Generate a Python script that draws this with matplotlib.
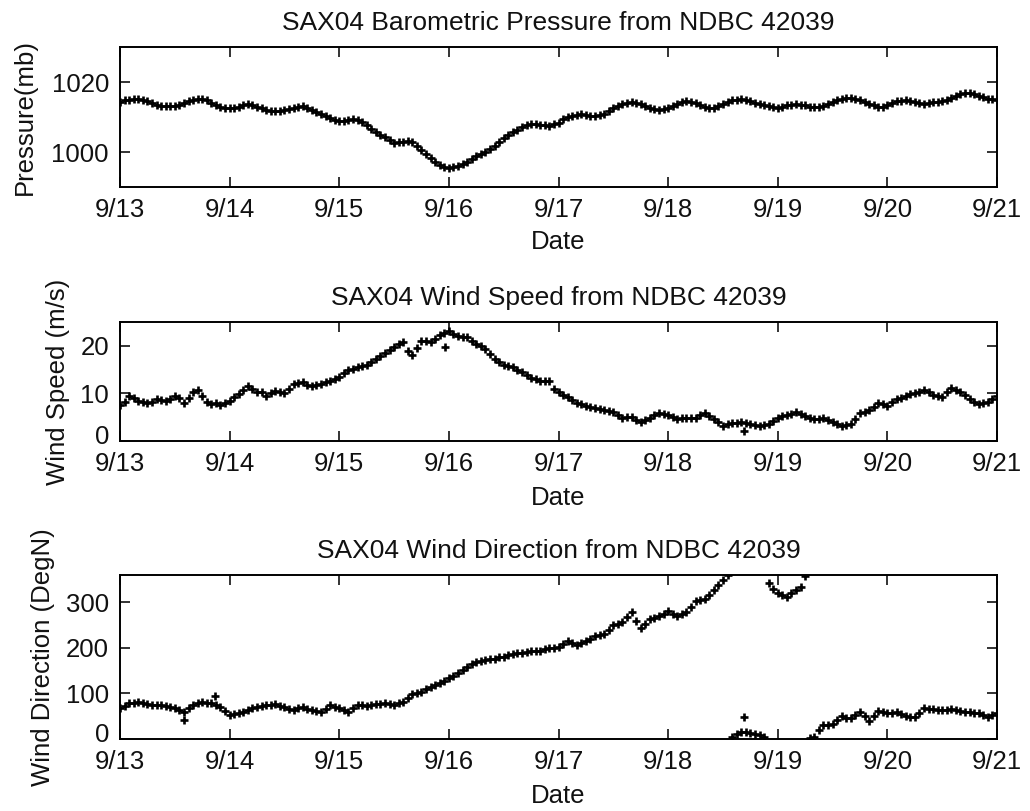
import numpy as np
import matplotlib.pyplot as plt
from matplotlib.transforms import ScaledTranslation

plt.rcParams['font.family'] = ['Liberation Sans', 'DejaVu Sans']

# hourly readings, 9/13 00:00 through 9/21 00:00 (one row per half day)
date_labels = ['9/13', '9/14', '9/15', '9/16', '9/17', '9/18', '9/19', '9/20', '9/21']

pressure = [
    1014.2, 1014.8, 1015.0, 1015.2, 1015.2, 1015.0, 1014.7, 1014.0, 1013.4, 1013.2, 1013.1, 1013.1,
    1013.1, 1013.4, 1014.0, 1014.6, 1015.0, 1015.2, 1015.2, 1014.8, 1014.0, 1013.3, 1012.8, 1012.6,
    1012.5, 1012.6, 1012.8, 1013.3, 1013.8, 1013.4, 1012.9, 1012.5, 1012.1, 1011.8, 1011.6, 1011.8,
    1012.1, 1012.4, 1012.6, 1012.9, 1013.1, 1012.6, 1011.9, 1011.5, 1011.0, 1010.3, 1009.7, 1009.2,
    1008.9, 1009.0, 1009.2, 1009.3, 1009.2, 1008.6, 1007.8, 1006.7, 1005.6, 1005.0, 1004.4, 1003.5,
    1002.7, 1002.8, 1003.0, 1003.2, 1003.0, 1001.8, 1000.6, 999.4, 998.2, 997.2, 996.3, 995.7,
    995.3, 995.6, 996.0, 996.6, 997.2, 998.0, 998.8, 999.5, 1000.1, 1000.9, 1001.7, 1002.8,
    1003.9, 1004.8, 1005.6, 1006.4, 1007.1, 1007.7, 1008.1, 1008.0, 1007.8, 1007.6, 1007.5, 1007.9,
    1008.4, 1009.3, 1010.0, 1010.4, 1010.7, 1010.8, 1010.7, 1010.4, 1010.2, 1010.5, 1011.0, 1011.8,
    1012.6, 1013.1, 1013.6, 1013.9, 1014.2, 1014.1, 1013.8, 1013.2, 1012.6, 1012.3, 1012.1, 1012.3,
    1012.6, 1013.2, 1013.8, 1014.2, 1014.5, 1014.3, 1014.0, 1013.4, 1012.8, 1012.6, 1012.6, 1013.2,
    1013.8, 1014.3, 1014.8, 1015.0, 1015.2, 1014.9, 1014.5, 1014.0, 1013.6, 1013.3, 1013.1, 1012.9,
    1012.6, 1013.0, 1013.3, 1013.5, 1013.6, 1013.5, 1013.3, 1013.0, 1012.8, 1012.9, 1013.1, 1013.6,
    1014.2, 1014.8, 1015.2, 1015.3, 1015.4, 1015.2, 1015.0, 1014.4, 1013.8, 1013.3, 1012.8, 1013.0,
    1013.3, 1013.9, 1014.5, 1014.7, 1014.8, 1014.5, 1014.2, 1013.9, 1013.6, 1013.9, 1014.2, 1014.3,
    1014.5, 1015.0, 1015.5, 1016.1, 1016.7, 1016.9, 1016.9, 1016.5, 1016.0, 1015.6, 1015.2, 1015.1,
    1015.0,
]

wind_speed = [
    7.5, 8.2, 9.5, 9.0, 8.5, 8.2, 8.0, 8.3, 8.8, 8.6, 8.5, 8.9,
    9.5, 9.0, 8.0, 9.0, 10.2, 10.8, 9.5, 8.3, 7.8, 7.9, 7.6, 8.0,
    8.5, 9.2, 9.9, 10.8, 11.6, 11.0, 10.4, 10.2, 9.5, 10.0, 10.6, 10.3,
    10.1, 11.0, 12.0, 12.1, 12.3, 11.8, 11.6, 11.7, 12.0, 12.4, 12.7, 13.0,
    13.4, 14.2, 15.0, 15.2, 15.5, 15.7, 16.0, 16.6, 17.3, 17.9, 18.5, 19.2,
    19.7, 20.3, 20.8, 19.0, 18.0, 19.5, 21.1, 21.0, 20.8, 21.5, 22.2, 22.8,
    23.2, 22.5, 22.0, 21.9, 21.8, 21.0, 20.4, 19.9, 19.4, 18.3, 17.3, 16.6,
    16.0, 15.7, 15.5, 15.0, 14.4, 13.8, 13.2, 13.0, 12.7, 12.7, 12.7, 11.0,
    10.2, 9.7, 9.2, 8.6, 8.0, 7.7, 7.4, 7.2, 7.0, 6.7, 6.5, 6.3,
    6.1, 5.5, 4.9, 5.0, 5.1, 4.5, 4.0, 4.4, 4.9, 5.4, 5.8, 5.6,
    5.4, 5.0, 4.7, 4.8, 4.9, 4.9, 4.9, 5.4, 5.8, 5.2, 4.6, 3.9,
    3.2, 3.5, 3.7, 3.8, 3.9, 3.7, 3.5, 3.3, 3.2, 3.3, 3.5, 4.2,
    4.9, 5.2, 5.4, 5.7, 6.0, 5.6, 5.3, 4.9, 4.6, 4.7, 4.9, 4.4,
    4.0, 3.6, 3.2, 3.3, 3.5, 4.6, 5.8, 6.2, 6.5, 7.2, 8.0, 7.7,
    7.4, 8.1, 8.8, 9.1, 9.5, 9.8, 10.1, 10.4, 10.8, 10.2, 9.6, 9.4,
    9.2, 10.2, 11.1, 10.8, 10.4, 9.6, 8.9, 8.3, 7.7, 7.9, 8.1, 8.8,
    9.5,
]

wind_dir = [
    67, 72, 78, 80, 81, 78, 76, 75, 74, 74, 73, 71,
    68, 64, 59, 67, 74, 78, 81, 80, 78, 74, 70, 62,
    53, 55, 56, 60, 63, 67, 70, 72, 74, 75, 76, 73,
    70, 66, 63, 67, 70, 66, 63, 61, 59, 66, 74, 71,
    68, 64, 59, 67, 74, 74, 73, 75, 76, 77, 78, 76,
    74, 78, 81, 89, 98, 101, 104, 110, 115, 118, 122, 128,
    133, 139, 144, 152, 159, 165, 169, 172, 174, 175, 176, 179,
    181, 184, 187, 188, 189, 191, 193, 193, 193, 197, 200, 200,
    201, 208, 215, 210, 206, 210, 215, 220, 226, 228, 230, 240,
    250, 253, 256, 268, 278, 260, 244, 253, 263, 266, 270, 275,
    280, 275, 270, 274, 278, 290, 302, 305, 307, 316, 326, 338,
    350, 359, 5, 10, 15, 15, 14, 11, 8, 4, 342, 330,
    320, 315, 312, 320, 328, 333, 357, 2, 4, 20, 30, 31,
    32, 41, 50, 47, 45, 52, 60, 50, 40, 51, 62, 59,
    56, 58, 59, 55, 50, 49, 48, 58, 67, 66, 65, 64,
    63, 64, 65, 63, 61, 60, 59, 58, 56, 52, 48, 53,
    58,
]

# odd single readings
speed_spike_days = [2.96, 5.69]
speed_spikes = [19.7, 2.1]
dir_spike_days = [0.58, 0.87, 5.69]
dir_spikes = [41, 95, 48]

days = np.arange(len(pressure)) / 24.0

fig = plt.figure(figsize=(10.3, 8.11), dpi=100)
ax1 = fig.add_axes([0.1165, 0.7694, 0.8515, 0.1726])
ax2 = fig.add_axes([0.1165, 0.4562, 0.8515, 0.1467])
ax3 = fig.add_axes([0.1165, 0.0888, 0.8515, 0.2022])

mk = dict(linestyle='none', marker='+', ms=6, mew=1.9, color='black')

ax1.plot(days, pressure, **mk)
ax2.plot(days, wind_speed, **mk)
ax2.plot(speed_spike_days, speed_spikes, **mk)
ax3.plot(days, wind_dir, **mk)
ax3.plot(dir_spike_days, dir_spikes, **mk)

ax1.set_ylim(990, 1030)
ax1.set_yticks([1000, 1020])
ax2.set_ylim(0, 25)
ax2.set_yticks([0, 10, 20])
ax3.set_ylim(0, 360)
ax3.set_yticks([0, 100, 200, 300])

titles = ['SAX04 Barometric Pressure from NDBC 42039',
          'SAX04 Wind Speed from NDBC 42039',
          'SAX04 Wind Direction from NDBC 42039']
ylabels = ['Pressure(mb)', 'Wind Speed (m/s)', 'Wind Direction (DegN)']
ylab_x = [-0.095, -0.057, -0.074]
date_pad = [6, 7, 7]

for ax, tt, yl, lx, dp in zip([ax1, ax2, ax3], titles, ylabels, ylab_x, date_pad):
    ax.set_xlim(0, 8)
    ax.set_xticks(np.arange(9))
    ax.set_xticklabels(date_labels)
    ax.tick_params(direction='in', length=7, width=1.2, labelsize=18.5,
                   top=True, right=True, pad=8, colors='#111111')
    for sp in ax.spines.values():
        sp.set_linewidth(1.4)
    ax.set_title(tt, fontsize=19, pad=12, color='#111111')
    ax.set_xlabel('Date', fontsize=18.5, labelpad=dp, color='#111111')
    ax.set_ylabel(yl, fontsize=18.5, color='#111111')
    ax.yaxis.set_label_coords(lx, 0.5)

# lift the "0" labels a little so they sit clear of the date labels
lift = ScaledTranslation(0, 5 / 72, fig.dpi_scale_trans)
for ax in [ax2, ax3]:
    zero_lab = ax.yaxis.get_major_ticks()[0].label1
    zero_lab.set_transform(zero_lab.get_transform() + lift)

fig.savefig('out.png', dpi=100)
